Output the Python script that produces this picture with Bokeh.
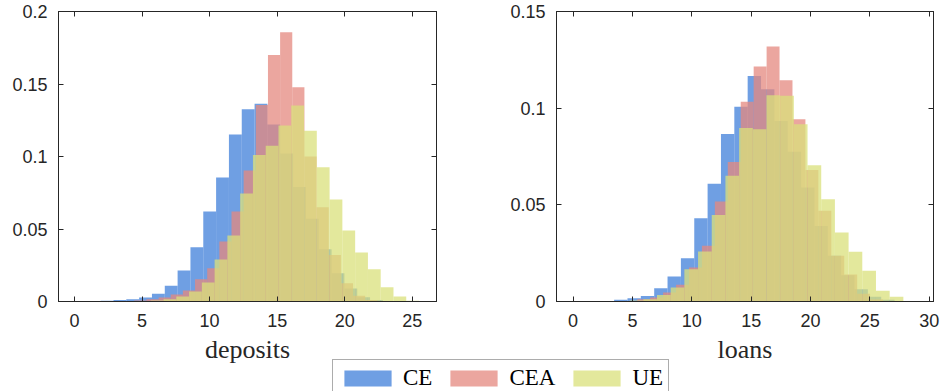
import numpy as np
from bokeh.plotting import figure
from bokeh.layouts import column, row
from bokeh.models import (Range1d, LinearAxis, FixedTicker, Legend, LegendItem,
                          Label, CustomJSTickFormatter)
from bokeh.embed import file_html
from bokeh.resources import INLINE

# ---------------- data ----------------
series_names = ["CE", "CEA", "UE"]
series_colors = ["#3f7fda", "#e4887f", "#dae07b"]
FILL_ALPHA = 0.75

# deposits panel: histogram (pdf) of each series
dep_bin_start = [0.98, 4.42, 5.64]
dep_bin_width = [0.95, 0.90, 0.946]
dep_ce = [0.0003, 0.0005, 0.0010, 0.0016, 0.0028, 0.0053, 0.0108, 0.0214, 0.0375,
          0.0621, 0.0855, 0.1152, 0.1326, 0.1363, 0.1220, 0.1020, 0.0790, 0.0570,
          0.0360, 0.0195, 0.0090, 0.0030, 0.0010]
dep_cea = [0.0007, 0.0016, 0.0028, 0.0048, 0.0076, 0.0154, 0.0230, 0.0414, 0.0620,
           0.0903, 0.1355, 0.1700, 0.1857, 0.1478, 0.1000, 0.0650, 0.0320, 0.0126,
           0.0040, 0.0010]
dep_ue = [0.0007, 0.0016, 0.0034, 0.0069, 0.0131, 0.0290, 0.0455, 0.0745, 0.1010,
          0.1074, 0.1214, 0.1352, 0.1177, 0.0926, 0.0703, 0.0490, 0.0338, 0.0223,
          0.0099, 0.0034, 0.0005]

# loans panel
loan_bin_start = [2.33, 5.40, 4.76]
loan_bin_width = [1.125, 1.09, 1.153]
loan_ce = [0.0003, 0.0009, 0.0017, 0.0029, 0.0069, 0.0129, 0.0224, 0.0431, 0.0609,
           0.0866, 0.1007, 0.1167, 0.1098, 0.0934, 0.0774, 0.0590, 0.0390, 0.0236,
           0.0136, 0.0064, 0.0024, 0.0009]
loan_cea = [0.0012, 0.0021, 0.0047, 0.0086, 0.0176, 0.0288, 0.0517, 0.0722, 0.1033,
            0.1216, 0.1319, 0.1145, 0.0943, 0.0680, 0.0470, 0.0236, 0.0140, 0.0040,
            0.0010]
loan_ue = [0.0005, 0.0012, 0.0034, 0.0072, 0.0167, 0.0259, 0.0447, 0.0650, 0.0897,
           0.0891, 0.1067, 0.1064, 0.0917, 0.0705, 0.0529, 0.0357, 0.0257, 0.0159,
           0.0055, 0.0024]

dep_xlim = (-1.19, 26.8)
dep_ylim = (0, 0.2)
loan_xlim = (-1.4, 30.36)
loan_ylim = (0, 0.15)

dep_xticks = [0, 5, 10, 15, 20, 25]
loan_xticks = [0, 5, 10, 15, 20, 25, 30]
dep_yticks = [0, 0.05, 0.1, 0.15, 0.2]
dep_ytick_labels = ["0", "0.05", "0.1", "0.15", "0.2"]
loan_yticks = [0, 0.05, 0.1, 0.15]
loan_ytick_labels = ["0", "0.05", "0.1", "0.15"]

dep_xlabel = "deposits"
loan_xlabel = "loans"

# ---------------- styling ----------------
AX = "#262626"
TICK_FONT = "Liberation Sans"
TICK_SIZE = "18px"
SERIF = "Liberation Serif"
TOTAL_W = 943
TOTAL_H = 391
TOP = 11
FRAME_H = 290
BOTTOM = 33
PANEL_H = TOP + FRAME_H + BOTTOM
STRIP_H = TOTAL_H - PANEL_H

blank = CustomJSTickFormatter(code="return ''")


def style_axis(ax, ticks, show_labels, standoff):
    ax.ticker = FixedTicker(ticks=ticks)
    ax.axis_line_color = AX
    ax.axis_line_width = 1
    ax.major_tick_line_color = AX
    ax.major_tick_in = 5
    ax.major_tick_out = 0
    ax.minor_tick_line_color = None
    ax.major_label_text_font = TICK_FONT
    ax.major_label_text_font_size = TICK_SIZE
    ax.major_label_text_color = AX
    ax.major_label_standoff = standoff
    if not show_labels:
        ax.formatter = blank
        ax.major_label_standoff = 0


def panel(width, bl, br, xlim, ylim, xticks, yticks, ylabels, starts, widths, values):
    p = figure(width=width, height=PANEL_H, x_range=Range1d(*xlim), y_range=Range1d(*ylim),
               output_backend="svg", toolbar_location=None,
               min_border_left=bl, min_border_right=br, min_border_top=TOP,
               min_border_bottom=BOTTOM)
    p.grid.visible = False
    p.outline_line_color = AX
    p.background_fill_color = "white"
    for color, s, w, v in zip(series_colors, starts, widths, values):
        edges = s + w * np.arange(len(v) + 1)
        p.quad(left=edges[:-1], right=edges[1:], bottom=0, top=v,
               fill_color=color, fill_alpha=FILL_ALPHA, line_color=None)
    style_axis(p.xaxis[0], xticks, True, 12)
    style_axis(p.yaxis[0], yticks, True, 11)
    p.yaxis[0].major_label_overrides = dict(zip(yticks, ylabels))
    top = LinearAxis()
    style_axis(top, xticks, False, 0)
    p.add_layout(top, "above")
    right = LinearAxis()
    style_axis(right, yticks, False, 0)
    p.add_layout(right, "right")
    return p


W1 = 480
p1 = panel(W1, 58, W1 - 436, dep_xlim, dep_ylim, dep_xticks, dep_yticks, dep_ytick_labels,
           dep_bin_start, dep_bin_width, [dep_ce, dep_cea, dep_ue])
p2 = panel(TOTAL_W - W1, 556 - W1, TOTAL_W - 933, loan_xlim, loan_ylim, loan_xticks,
           loan_yticks, loan_ytick_labels, loan_bin_start, loan_bin_width,
           [loan_ce, loan_cea, loan_ue])

# bottom strip: axis titles + legend
# y range chosen above the data so the legend proxies are not visible
strip = figure(width=TOTAL_W, height=STRIP_H, x_range=Range1d(0, TOTAL_W), y_range=Range1d(1, 2),
               output_backend="svg", toolbar_location=None, x_axis_location=None,
               y_axis_location=None, min_border=0)
strip.grid.visible = False
strip.outline_line_color = None

for txt, cx in [(dep_xlabel, 247), (loan_xlabel, 744.5)]:
    strip.add_layout(Label(x=cx, y=STRIP_H - 15, x_units="screen", y_units="screen", text=txt,
                           text_align="center", text_baseline="middle",
                           text_font=SERIF, text_font_size="26px", text_color=AX))

items = []
for name, color, s, w, v in zip(series_names, series_colors, dep_bin_start, dep_bin_width,
                                [dep_ce, dep_cea, dep_ue]):
    edges = s + w * np.arange(len(v) + 1)
    r = strip.quad(left=edges[:-1], right=edges[1:], bottom=0, top=v, fill_color=color,
                   fill_alpha=FILL_ALPHA, line_color=None)
    items.append(LegendItem(label=name, renderers=[r]))

legend = Legend(items=items, orientation="horizontal", location=(332, STRIP_H - 63),
                glyph_width=59, glyph_height=20, label_standoff=6, spacing=12,
                padding=5, margin=0, label_text_font=SERIF, label_text_font_size="23px",
                label_text_color="black", border_line_color="#595959", border_line_width=1,
                background_fill_color="white", background_fill_alpha=1.0)
strip.add_layout(legend)

layout = column(row(p1, p2), strip, spacing=0)
open("out.html", "w").write(file_html(layout, INLINE))
